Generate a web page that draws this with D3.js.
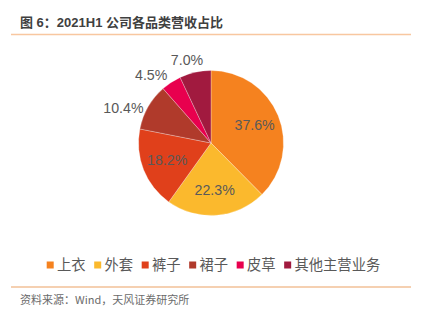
<!DOCTYPE html>
<html>
<head>
<meta charset="utf-8">
<script src="https://cdn.jsdelivr.net/npm/d3@7/dist/d3.min.js"></script>
<style>
  html, body { margin: 0; padding: 0; background: #fff; }
  svg { display: block; }
</style>
</head>
<body>
<svg id="chart" width="428" height="323"></svg>
<script>
// Revenue share by product category, 2021H1 (%)
const categories = ["上衣", "外套", "裤子", "裙子", "皮草", "其他主营业务"];
const shares = [37.6, 22.3, 18.2, 10.4, 4.5, 7.0];
const colors = ["#F5821F", "#FBB92D", "#E0401B", "#B03A2B", "#E8004E", "#A11A3F"];
// slices whose label sits outside the pie
const outsideLabel = [false, false, false, true, true, true];

const title = "图 6：2021H1 公司各品类营收占比";
const source = "资料来源：Wind，天风证券研究所";

const W = 428, H = 323;
const cx = 211, cy = 143, R = 72.5;
const latin = "'Liberation Sans', Arial, 'Noto Sans CJK SC', sans-serif";
const cjk = "'Noto Sans CJK SC', 'Liberation Sans', sans-serif";

const svg = d3.select("#chart");

// header
svg.append("text")
  .attr("x", 20).attr("y", 27)
  .attr("font-family", latin).attr("font-size", 13).attr("font-weight", "bold")
  .attr("fill", "#404040")
  .text(title);
svg.append("line")
  .attr("x1", 11).attr("x2", 411).attr("y1", 34.5).attr("y2", 34.5)
  .attr("stroke", "#F8C7A0").attr("stroke-width", 1.5);

// pie
const data = categories.map((c, i) => ({ name: c, value: shares[i], color: colors[i], outside: outsideLabel[i] }));
const pie = d3.pie().value(d => d.value).sort(null).startAngle(0).endAngle(2 * Math.PI);
const arcs = pie(data);
const arc = d3.arc().innerRadius(0).outerRadius(R);

const g = svg.append("g").attr("transform", `translate(${cx},${cy})`);
g.selectAll("path.slice")
  .data(arcs)
  .join("path")
  .attr("class", "slice")
  .attr("d", arc)
  .attr("fill", d => d.data.color)
  .attr("stroke", "rgba(255,255,255,0.45)")
  .attr("stroke-width", 0.6);

// value labels: inside ones on a ring at 0.65R, outside ones pulled back a little from the slice middle
const inner = d3.arc().innerRadius(R * 0.65).outerRadius(R * 0.65);
function labelPos(d) {
  if (!d.data.outside) return inner.centroid(d);
  const mid = (d.startAngle + d.endAngle) / 2;
  const s = Math.abs(Math.sin(mid));
  const a = mid - (8 * Math.min(1, 2 * s)) * Math.PI / 180;
  const dist = 84 + 12 * s;
  return [dist * Math.sin(a), -dist * Math.cos(a)];
}
g.selectAll("text.val")
  .data(arcs)
  .join("text")
  .attr("class", "val")
  .attr("transform", d => `translate(${labelPos(d)})`)
  .attr("text-anchor", "middle")
  .attr("dy", "0.36em")
  .attr("font-family", latin).attr("font-size", 14.2)
  .attr("fill", "#595959")
  .text(d => d3.format(".1f")(d.data.value) + "%");

// legend
const legend = svg.append("g").attr("transform", "translate(46.7,265)");
let lx = 0;
data.forEach(d => {
  const item = legend.append("g").attr("transform", `translate(${lx},0)`);
  item.append("rect").attr("x", 0).attr("y", -3.5).attr("width", 7).attr("height", 7).attr("fill", d.color);
  const t = item.append("text")
    .attr("x", 10.3).attr("dy", "0.36em")
    .attr("font-family", cjk).attr("font-size", 14.3)
    .attr("fill", "#595959")
    .text(d.name);
  lx += 10.3 + t.node().getComputedTextLength() + 8.6;
});

// footer
svg.append("line")
  .attr("x1", 11).attr("x2", 411).attr("y1", 287).attr("y2", 287)
  .attr("stroke", "#EBA264").attr("stroke-width", 1.2);
svg.append("text")
  .attr("x", 20).attr("y", 304)
  .attr("font-family", cjk).attr("font-size", 11)
  .attr("fill", "#6b6b6b")
  .text(source);
</script>
</body>
</html>
